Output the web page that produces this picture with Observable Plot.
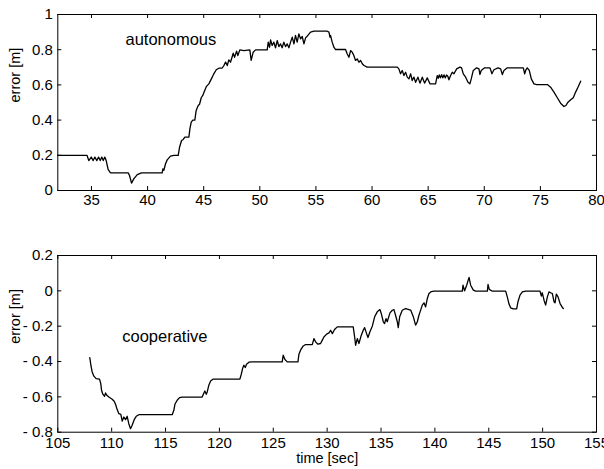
<!DOCTYPE html>
<html><head><meta charset="utf-8">
<script src="https://cdn.jsdelivr.net/npm/d3@7"></script>
<script src="https://cdn.jsdelivr.net/npm/@observablehq/plot@0.6"></script>
<style>
body{margin:0;background:#fff;}
#chart{width:604px;height:469px;overflow:hidden;background:#fff;}
#chart svg{display:block;}
</style></head><body><div id="chart"></div>
<script>
// ---- autonomous run (top panel) ----
const autoTime = [32,34.6,34.76,34.98,35.15,35.3,35.48,35.63,35.78,35.92,36.05,36.19,36.31,36.49,36.7,38.27,38.39,38.57,38.77,39.08,39.46,41.3,41.36,41.45,41.6,41.75,42.04,42.34,42.73,42.85,43.03,43.18,43.32,43.68,43.77,43.89,44.03,44.21,44.33,44.51,44.63,44.78,44.92,45.01,45.23,45.46,45.76,45.9,46.12,46.35,46.65,46.8,46.95,47.1,47.24,47.39,47.63,47.75,47.93,48.04,48.22,48.58,49.11,49.23,49.41,49.62,50.66,50.75,50.87,50.96,51.1,51.25,51.4,51.55,51.7,51.85,51.99,52.14,52.29,52.44,52.59,52.74,52.89,53.04,53.18,53.33,53.48,53.63,53.78,53.93,54.08,54.28,54.52,54.82,56.01,56.16,56.25,56.3,56.45,56.6,56.75,57.64,57.79,57.94,58.09,58.23,58.38,58.53,58.68,58.83,58.98,59.13,59.28,59.57,62.25,62.39,62.54,62.69,62.84,62.99,63.14,63.29,63.44,63.58,63.73,63.88,64.09,64.27,64.48,64.68,64.92,65.16,65.66,65.81,65.9,65.99,66.09,66.2,66.3,66.42,66.52,66.64,66.76,66.85,67.0,67.15,67.3,67.54,67.83,67.98,68.13,68.34,68.55,68.72,68.84,69.02,69.32,69.53,69.61,69.73,70.03,70.51,70.68,70.86,71.22,71.46,71.61,71.75,72.05,73.48,73.6,73.71,73.83,74.01,74.19,74.43,74.67,75.62,75.91,76.21,76.51,76.8,77.1,77.28,77.46,77.7,77.93,78.14,78.35,78.59];
const autoError = [0.2,0.2,0.17,0.19,0.17,0.19,0.17,0.19,0.17,0.19,0.17,0.19,0.17,0.118,0.1,0.1,0.085,0.042,0.066,0.09,0.1,0.1,0.123,0.115,0.152,0.174,0.195,0.2,0.2,0.246,0.284,0.29,0.303,0.303,0.35,0.388,0.4,0.4,0.455,0.483,0.49,0.527,0.54,0.555,0.59,0.606,0.644,0.663,0.686,0.695,0.696,0.71,0.73,0.71,0.742,0.729,0.78,0.757,0.792,0.767,0.799,0.795,0.799,0.739,0.786,0.799,0.799,0.843,0.814,0.856,0.824,0.843,0.811,0.852,0.818,0.833,0.811,0.843,0.818,0.833,0.811,0.843,0.871,0.833,0.881,0.843,0.89,0.862,0.875,0.833,0.867,0.881,0.9,0.905,0.905,0.9,0.871,0.881,0.843,0.814,0.801,0.801,0.776,0.757,0.795,0.786,0.767,0.739,0.748,0.729,0.739,0.72,0.71,0.701,0.701,0.691,0.663,0.682,0.653,0.672,0.644,0.634,0.663,0.625,0.644,0.615,0.644,0.61,0.644,0.61,0.64,0.606,0.606,0.653,0.638,0.657,0.64,0.658,0.64,0.657,0.64,0.656,0.648,0.629,0.653,0.672,0.663,0.691,0.701,0.697,0.663,0.644,0.615,0.606,0.634,0.682,0.697,0.691,0.659,0.682,0.697,0.697,0.663,0.686,0.697,0.691,0.659,0.682,0.697,0.697,0.663,0.686,0.697,0.682,0.634,0.606,0.602,0.602,0.587,0.559,0.527,0.496,0.477,0.483,0.502,0.515,0.527,0.559,0.587,0.621];

// ---- cooperative run (bottom panel) ----
const coopTime = [107.97,108.07,108.19,108.35,108.56,108.87,108.99,109.06,109.18,109.34,109.43,109.55,109.74,110.05,110.23,110.36,110.51,110.67,110.85,110.98,111.13,111.29,111.44,111.59,111.75,111.9,112.09,112.28,112.52,115.62,115.77,115.87,116.08,116.3,116.55,118.4,118.56,118.65,118.78,118.87,119.02,119.18,119.39,121.9,122.03,122.15,122.27,122.4,122.52,122.74,123.05,125.83,125.92,126.08,126.3,127.29,127.38,127.53,127.78,128.0,128.62,128.77,128.93,129.14,129.39,129.55,129.7,129.95,130.17,130.32,130.48,130.69,130.94,132.42,132.55,132.64,132.8,132.95,133.17,133.35,133.48,133.66,133.79,133.97,134.19,134.41,134.65,134.9,135.02,135.21,135.33,135.46,135.58,135.83,136.05,136.2,136.35,136.51,136.6,136.73,136.97,137.28,137.75,138.0,138.21,138.37,138.52,138.68,138.83,138.99,139.14,139.3,139.45,139.67,139.92,142.55,142.61,142.76,142.95,143.17,143.32,143.57,143.78,144.87,144.93,145.05,145.33,146.57,146.72,146.88,147.03,147.28,147.59,147.71,147.9,148.12,148.43,149.76,149.88,149.97,150.13,150.28,150.44,150.59,150.75,150.9,151.06,151.15,151.27,151.43,151.62,151.83,151.92];
const coopError = [-0.378,-0.421,-0.459,-0.483,-0.497,-0.5,-0.525,-0.563,-0.585,-0.597,-0.578,-0.591,-0.601,-0.614,-0.625,-0.642,-0.672,-0.695,-0.699,-0.737,-0.714,-0.729,-0.71,-0.752,-0.78,-0.761,-0.729,-0.71,-0.701,-0.701,-0.676,-0.642,-0.619,-0.604,-0.601,-0.601,-0.578,-0.567,-0.585,-0.572,-0.534,-0.51,-0.5,-0.5,-0.472,-0.44,-0.421,-0.434,-0.415,-0.404,-0.402,-0.402,-0.364,-0.389,-0.402,-0.402,-0.359,-0.336,-0.312,-0.304,-0.304,-0.27,-0.289,-0.302,-0.298,-0.279,-0.261,-0.245,-0.238,-0.223,-0.242,-0.219,-0.204,-0.204,-0.261,-0.308,-0.27,-0.298,-0.251,-0.223,-0.208,-0.242,-0.264,-0.232,-0.2,-0.147,-0.119,-0.106,-0.128,-0.175,-0.185,-0.157,-0.175,-0.125,-0.11,-0.106,-0.138,-0.175,-0.208,-0.147,-0.11,-0.1,-0.109,-0.147,-0.194,-0.175,-0.138,-0.109,-0.081,-0.068,-0.091,-0.043,-0.015,-0.004,-0.002,-0.002,0.032,0.0,0.032,0.076,0.032,0.004,-0.002,-0.002,0.036,0.008,-0.002,-0.002,-0.034,-0.075,-0.096,-0.102,-0.102,-0.062,-0.024,-0.006,-0.002,-0.002,-0.03,-0.011,-0.053,-0.081,-0.034,-0.006,-0.011,-0.015,-0.062,-0.068,-0.019,-0.034,-0.072,-0.094,-0.1];

// ---- axes ----
const autoXTicks = [35,40,45,50,55,60,65,70,75,80];
const autoYTicks = [0,0.2,0.4,0.6,0.8,1];
const coopXTicks = [105,110,115,120,125,130,135,140,145,150,155];
const coopYTicks = [-0.8,-0.6,-0.4,-0.2,0,0.2];
const yTitle = "error [m]";
const xTitle = "time [sec]";
const autoNote = {t: 38.03, e: 0.855, label: "autonomous"};
const coopNote = {t: 110.98, e: -0.262, label: "cooperative"};

const FONT = "Helvetica, Arial, 'Liberation Sans', sans-serif";
const W = 604, ML = 57.3, MR = 8;

function yFmt(d) { return d < 0 ? "- " + Math.abs(d) : String(d); }

function panel(o) {
  const innerW = W - ML - MR;
  const innerH = o.height - o.marginTop - o.marginBottom;
  const series = o.time.map((t, i) => ({t, e: o.error[i]}));
  const marks = [
    Plot.line(series, {x: "t", y: "e", stroke: "#000", strokeWidth: 1.3, curve: "linear"}),
    Plot.frame({stroke: "#000", strokeWidth: 1}),
    Plot.tickX(o.xTicks, {x: d => d, stroke: "#000", insetTop: innerH - 4}),
    Plot.tickX(o.xTicks, {x: d => d, stroke: "#000", insetBottom: innerH - 4}),
    Plot.tickY(o.yTicks, {y: d => d, stroke: "#000", insetRight: innerW - 4}),
    Plot.tickY(o.yTicks, {y: d => d, stroke: "#000", insetLeft: innerW - 4}),
    Plot.axisX(o.xTicks, {anchor: "bottom", tickSize: 0, tickPadding: o.xPad, tickFormat: d => String(d), fontSize: 15, fill: "#000"}),
    Plot.axisY(o.yTicks, {anchor: "left", tickSize: 0, tickPadding: 5, tickFormat: yFmt, fontSize: 15, fill: "#000"}),
    Plot.text([yTitle], {text: d => d, frameAnchor: "left", rotate: -90, dx: 15 - ML, fontSize: 14.5, fill: "#000"}),
    Plot.text([o.note], {x: "t", y: "e", text: "label", textAnchor: "start", fontSize: 16.5, fill: "#000"})
  ];
  if (o.showXTitle) {
    marks.push(Plot.text([xTitle], {text: d => d, frameAnchor: "bottom", dy: 31, fontSize: 14.5, fill: "#000"}));
  }
  return Plot.plot({
    width: W, height: o.height,
    marginLeft: ML, marginRight: MR, marginTop: o.marginTop, marginBottom: o.marginBottom,
    x: {domain: o.xDomain, label: null},
    y: {domain: o.yDomain, label: null},
    style: {fontFamily: FONT, background: "#fff", color: "#000", overflow: "visible"},
    marks
  });
}

const chart = document.getElementById("chart");
chart.appendChild(panel({time: autoTime, error: autoError, xDomain: [32, 80], yDomain: [0, 1],
  xTicks: autoXTicks, yTicks: autoYTicks, height: 225, marginTop: 14, marginBottom: 35, xPad: 4,
  note: autoNote, showXTitle: false}));
chart.appendChild(panel({time: coopTime, error: coopError, xDomain: [105, 155], yDomain: [-0.8, 0.2],
  xTicks: coopXTicks, yTicks: coopYTicks, height: 244, marginTop: 30, marginBottom: 37.3, xPad: 5,
  note: coopNote, showXTitle: true}));
</script></body></html>
